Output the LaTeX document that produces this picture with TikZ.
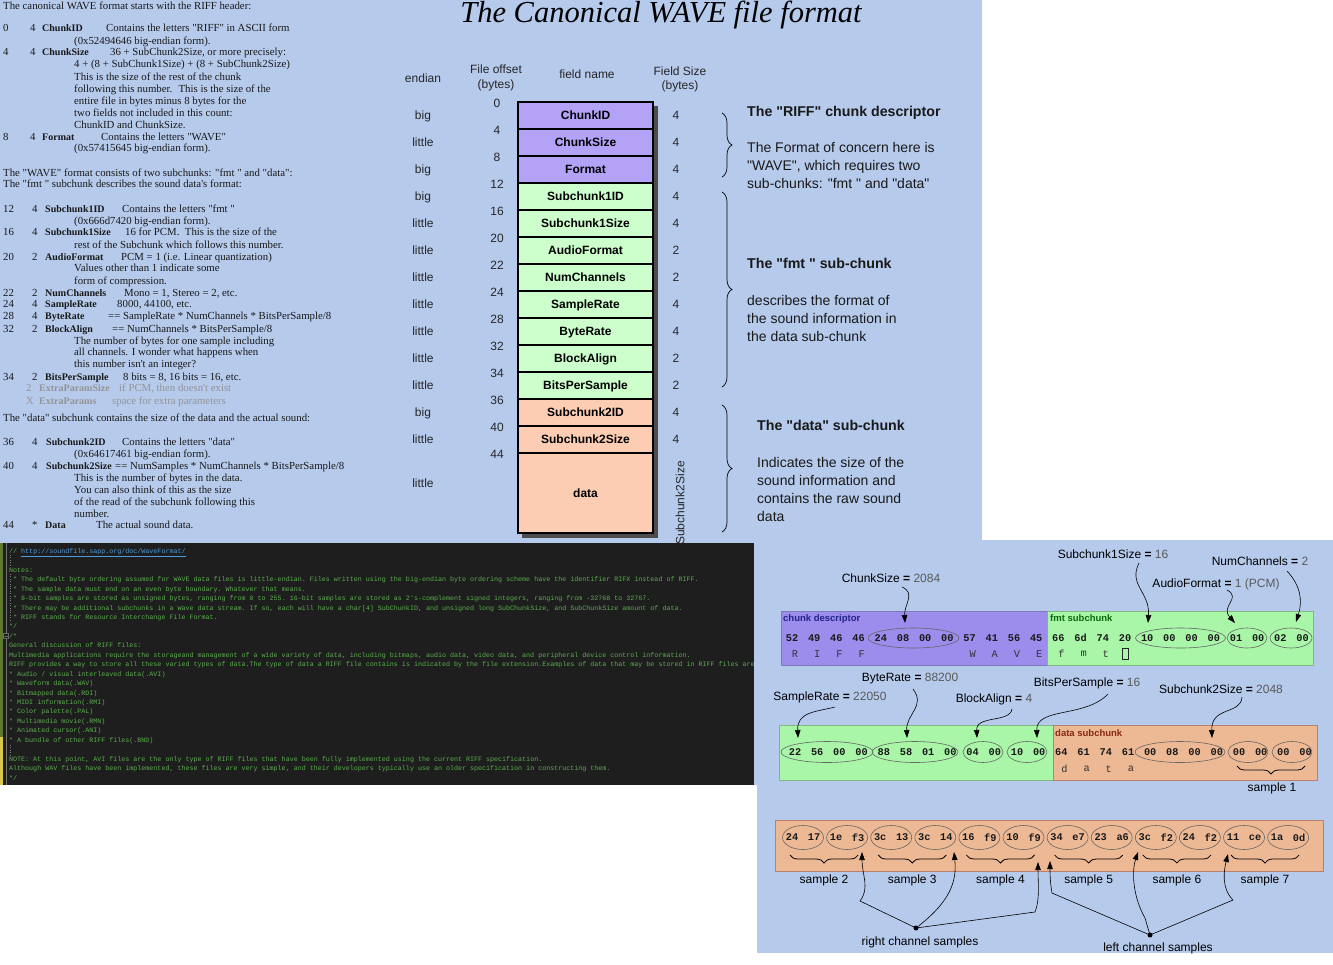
\documentclass[tikz,border=0pt]{standalone}
\usepackage{fontspec}
\setmainfont{Liberation Serif}[Ligatures=TeXOff]
\setsansfont{Liberation Sans}[Ligatures=TeXOff]
\setmonofont{Liberation Mono}
\usetikzlibrary{arrows.meta,decorations.pathreplacing}
\definecolor{bgblue}{HTML}{B6CAEC}
\definecolor{tpurple}{HTML}{B4A2F6}
\definecolor{tgreen}{HTML}{CCFFCC}
\definecolor{torange}{HTML}{FCCDB2}
\definecolor{bpurple}{HTML}{9C8CEC}
\definecolor{bgreen}{HTML}{A9F6A9}
\definecolor{borange}{HTML}{EDB995}
\definecolor{codebg}{HTML}{1E1E1E}
\definecolor{codegreen}{HTML}{5BAE4E}
\definecolor{codeblue}{HTML}{4F9BDC}
\definecolor{navy}{HTML}{23238C}
\definecolor{dgreen}{HTML}{0A6A0A}
\definecolor{dbrown}{HTML}{8A2A10}
\definecolor{gutolive}{HTML}{5E7A2E}
\definecolor{gutyellow}{HTML}{D8C84A}
\newcommand\fs[1]{\fontsize{#1}{#1}\selectfont}
\newcommand\lv[2]{#1 {\bfseries =} \textcolor{black!65}{#2}}
\newcommand\myT[4]{\node[lt] (#1) at (#2,#3+3.6) {#4};}
\newcommand\myB[4]{\node[ltb] (#1) at (#2,#3+3.6) {#4};}
\newcommand\myG[4]{\node[lg] (#1) at (#2,#3+3.6) {#4};}
\newcommand\myGB[4]{\node[lgb] (#1) at (#2,#3+3.6) {#4};}
\newcommand\myC[3]{\node[code] (#1) at (9,{551+9.45*(#2-1)+2.3}) {#3};}
\begin{document}
\begin{tikzpicture}[x=1pt,y=-1pt,
  lt/.style={font=\fs{10.8}, text=black!90, inner sep=0, anchor=base west},
  ltb/.style={lt, font=\fs{10}\bfseries},
  lg/.style={lt, text=black!42},
  lgb/.style={lg, font=\fs{10}\bfseries},
  side/.style={font=\sffamily\fs{12}, text=black!85, inner sep=0},
  fld/.style={draw=black, line width=1.6pt, minimum width=135pt, minimum height=27pt, font=\sffamily\bfseries\fs{12}, text height=8.6pt, text depth=0pt, inner sep=0},
  rt/.style={font=\sffamily\fs{14}, text=black!90, inner sep=0, anchor=base west},
  rtb/.style={rt, font=\sffamily\bfseries\fs{14.2}},
  brc/.style={decorate, decoration={brace, amplitude=10pt}, line width=0.7pt},
  code/.style={font=\ttfamily\fs{6.68}, text=codegreen, inner sep=0, anchor=base west},
  byte/.style={font=\ttfamily\bfseries\fs{10.3}, text=black!90, inner sep=0},
  letter/.style={font=\ttfamily\fs{10.3}, text=black!80, inner sep=0},
  lab/.style={font=\sffamily\fs{12}, inner sep=0, text height=8.6pt, text depth=2.5pt},
  arr/.style={line width=0.6pt, -{Triangle[length=8pt,width=5.5pt]}},
  ell/.style={draw=black!60, line width=0.6pt},
  sbrc/.style={decorate, decoration={brace, amplitude=8pt}, line width=0.8pt},
  tag/.style={font=\sffamily\bfseries\fs{9.5}, inner sep=0, anchor=base west},
]
\useasboundingbox (0,0) rectangle (1333,964);
\fill[white] (0,0) rectangle (1333,964);
\fill[bgblue] (0,0) rectangle (982,545);
\fill[bgblue] (757,540) rectangle (1333,953);
\fill[bgblue] (750,543) rectangle (760,785);

% ---------- title ----------
\node[font=\fs{30.5}\itshape, anchor=base, inner sep=0] (title) at (661,22) {The Canonical WAVE file format};

% ---------- left description ----------
\myT{h0}{3}{6}{The canonical WAVE format starts with the RIFF header:}
\myT{o1}{3}{28}{0}\myT{s1}{30}{28}{4}\myB{n1}{42}{28}{ChunkID}\myT{d1}{106}{28}{Contains the letters "RIFF" in ASCII form}
\myT{d1b}{74}{41}{(0x52494646 big-endian form).}
\myT{o2}{3}{52}{4}\myT{s2}{30}{52}{4}\myB{n2}{42}{52}{ChunkSize}\myT{d2}{110}{52}{36 + SubChunk2Size, or more precisely:}
\myT{d2b}{74}{64}{4 + (8 + SubChunk1Size) + (8 + SubChunk2Size)}
\myT{d2c}{74}{77}{This is the size of the rest of the chunk}
\myT{d2d}{74}{89}{following this number.~ This is the size of the}
\myT{d2e}{74}{101}{entire file in bytes minus 8 bytes for the}
\myT{d2f}{74}{113}{two fields not included in this count:}
\myT{d2g}{74}{125}{ChunkID and ChunkSize.}
\myT{o3}{3}{137}{8}\myT{s3}{30}{137}{4}\myB{n3}{42}{137}{Format}\myT{d3}{101}{137}{Contains the letters "WAVE"}
\myT{d3b}{74}{148}{(0x57415645 big-endian form).}
\myT{h1}{3}{173}{The "WAVE" format consists of two subchunks: "fmt " and "data":}
\myT{h2}{3}{184}{The "fmt " subchunk describes the sound data's format:}
\myT{o4}{3}{209}{12}\myT{s4}{32}{209}{4}\myB{n4}{45}{209}{Subchunk1ID}\myT{d4}{122}{209}{Contains the letters "fmt "}
\myT{d4b}{74}{221}{(0x666d7420 big-endian form).}
\myT{o5}{3}{232}{16}\myT{s5}{32}{232}{4}\myB{n5}{45}{232}{Subchunk1Size}\myT{d5}{125}{232}{16 for PCM.~ This is the size of the}
\myT{d5b}{74}{245}{rest of the Subchunk which follows this number.}
\myT{o6}{3}{257}{20}\myT{s6}{32}{257}{2}\myB{n6}{45}{257}{AudioFormat}\myT{d6}{121}{257}{PCM = 1 (i.e. Linear quantization)}
\myT{d6b}{74}{268}{Values other than 1 indicate some}
\myT{d6c}{74}{281}{form of compression.}
\myT{o7}{3}{293}{22}\myT{s7}{32}{293}{2}\myB{n7}{45}{293}{NumChannels}\myT{d7}{124}{293}{Mono = 1, Stereo = 2, etc.}
\myT{o8}{3}{304}{24}\myT{s8}{32}{304}{4}\myB{n8}{45}{304}{SampleRate}\myT{d8}{117}{304}{8000, 44100, etc.}
\myT{o9}{3}{316}{28}\myT{s9}{32}{316}{4}\myB{n9}{45}{316}{ByteRate}\myT{d9}{108}{316}{== SampleRate * NumChannels * BitsPerSample/8}
\myT{o10}{3}{329}{32}\myT{s10}{32}{329}{2}\myB{n10}{45}{329}{BlockAlign}\myT{d10}{112}{329}{== NumChannels * BitsPerSample/8}
\myT{d10b}{74}{341}{The number of bytes for one sample including}
\myT{d10c}{74}{352}{all channels. I wonder what happens when}
\myT{d10d}{74}{364}{this number isn't an integer?}
\myT{o11}{3}{377}{34}\myT{s11}{32}{377}{2}\myB{n11}{45}{377}{BitsPerSample}\myT{d11}{123}{377}{8 bits = 8, 16 bits = 16, etc.}
\myG{s12}{26}{388}{2}\myGB{n12}{39}{388}{ExtraParamSize}\myG{d12}{119}{388}{if PCM, then doesn't exist}
\myG{s13}{26}{401}{X}\myGB{n13}{39}{401}{ExtraParams}\myG{d13}{112}{401}{space for extra parameters}
\myT{h3}{3}{418}{The "data" subchunk contains the size of the data and the actual sound:}
\myT{o14}{3}{442}{36}\myT{s14}{32}{442}{4}\myB{n14}{46}{442}{Subchunk2ID}\myT{d14}{122}{442}{Contains the letters "data"}
\myT{d14b}{74}{454}{(0x64617461 big-endian form).}
\myT{o15}{3}{466}{40}\myT{s15}{32}{466}{4}\myB{n15}{46}{466}{Subchunk2Size}\myT{d15}{115}{466}{== NumSamples * NumChannels * BitsPerSample/8}
\myT{d15b}{74}{478}{This is the number of bytes in the data.}
\myT{d15c}{74}{490}{You can also think of this as the size}
\myT{d15d}{74}{502}{of the read of the subchunk following this}
\myT{d15e}{74}{514}{number.}
\myT{o16}{3}{525}{44}\myT{s16}{32}{525}{*}\myB{n16}{45}{525}{Data}\myT{d16}{96}{525}{The actual sound data.}

% ---------- table ----------
\node[side] (hEnd) at (423,78) {endian};
\node[side] (hOff1) at (496,69) {File offset};
\node[side] (hOff2) at (496,85) {(bytes)};
\node[side] (hName) at (587,74) {field name};
\node[side] (hSz1) at (680,71) {Field Size};
\node[side] (hSz2) at (680,86) {(bytes)};
\fill[black!70] (522,106) rectangle (658,538);
\foreach \nm/\col/\en/\sz [count=\i from 0] in {ChunkID/tpurple/big/4, ChunkSize/tpurple/little/4, Format/tpurple/big/4, Subchunk1ID/tgreen/big/4, Subchunk1Size/tgreen/little/4, AudioFormat/tgreen/little/2, NumChannels/tgreen/little/2, SampleRate/tgreen/little/4, ByteRate/tgreen/little/4, BlockAlign/tgreen/little/2, BitsPerSample/tgreen/little/2, Subchunk2ID/torange/big/4, Subchunk2Size/torange/little/4}{
  \node[fld, fill=\col] (fld\i) at (585.5,{115.5+27*\i}) {\nm};
  \node[side, anchor=base] (end\i) at (423,{119.8+27*\i}) {\en};
  \node[side] (size\i) at (676,{115.5+27*\i}) {\sz};
}
\node[fld, fill=torange, minimum height=80pt] (flddata) at (585.5,493) {data};
\node[side, anchor=base] (enddata) at (423,487.3) {little};
\foreach \o [count=\i from 0] in {0,4,8,12,16,20,22,24,28,32,34,36,40,44}
  \node[side] (off\i) at (497,{103+27*\i}) {\o};
\node[side, rotate=90] (s2s) at (680,503) {Subchunk2Size};

% ---------- right-hand braces and notes ----------
\draw[brc] (722,113) -- (722,177);
\draw[brc] (722,192) -- (722,387);
\draw[brc] (722,405) -- (722,532);
\node[rtb] (r1) at (747,116) {The "RIFF" chunk descriptor};
\node[rt] (r1a) at (747,152) {The Format of concern here is};
\node[rt] (r1b) at (747,170) {"WAVE", which requires two};
\node[rt] (r1c) at (747,188) {sub-chunks: "fmt " and "data"};
\node[rtb] (r2) at (747,268) {The "fmt " sub-chunk};
\node[rt] (r2a) at (747,305) {describes the format of};
\node[rt] (r2b) at (747,323) {the sound information in};
\node[rt] (r2c) at (747,341) {the data sub-chunk};
\node[rtb] (r3) at (757,430) {The "data" sub-chunk};
\node[rt] (r3a) at (757,467) {Indicates the size of the};
\node[rt] (r3b) at (757,485) {sound information and};
\node[rt] (r3c) at (757,503) {contains the raw sound};
\node[rt] (r3d) at (757,521) {data};

% ---------- code block ----------
\fill[codebg] (0,543) rectangle (754,785);
\fill[gutolive] (0,543) rectangle (3,737);
\fill[gutyellow] (0,737) rectangle (3,785);
\draw[black!55, line width=0.6pt] (6,543) -- (6,785);
\node[draw=black!60, fill=codebg, minimum size=5pt, inner sep=0, line width=0.5pt] (fold) at (6,636) {};
\draw[black!60, line width=0.5pt] (fold.west) -- (fold.east);
\draw[black!50, dotted] (10,555) -- (10,565);
\draw[black!50, dotted] (10,574) -- (10,622);
\draw[black!50, dotted] (10,745) -- (10,755);
\begin{scope}
\clip (0,543) rectangle (754,785);
\myC{c1}{1}{// \textcolor{codeblue}{\underline{http://soundfile.sapp.org/doc/WaveFormat/}}}
\myC{c3}{3}{Notes:}
\myC{c4}{4}{\ * The default byte ordering assumed for WAVE data files is little-endian. Files written using the big-endian byte ordering scheme have the identifier RIFX instead of RIFF.}
\myC{c5}{5}{\ * The sample data must end on an even byte boundary. Whatever that means.}
\myC{c6}{6}{\ * 8-bit samples are stored as unsigned bytes, ranging from 0 to 255. 16-bit samples are stored as 2's-complement signed integers, ranging from -32768 to 32767.}
\myC{c7}{7}{\ * There may be additional subchunks in a Wave data stream. If so, each will have a char[4] SubChunkID, and unsigned long SubChunkSize, and SubChunkSize amount of data.}
\myC{c8}{8}{\ * RIFF stands for Resource Interchange File Format.}
\myC{c9}{9}{*/}
\myC{c10}{10}{/*}
\myC{c11}{11}{General discussion of RIFF files:}
\myC{c12}{12}{Multimedia applications require the storageand management of a wide variety of data, including bitmaps, audio data, video data, and peripheral device control information.}
\myC{c13}{13}{RIFF provides a way to store all these varied types of data.The type of data a RIFF file contains is indicated by the file extension.Examples of data that may be stored in RIFF files are:}
\myC{c14}{14}{* Audio / visual interleaved data(.AVI)}
\myC{c15}{15}{* Waveform data(.WAV)}
\myC{c16}{16}{* Bitmapped data(.RDI)}
\myC{c17}{17}{* MIDI information(.RMI)}
\myC{c18}{18}{* Color palette(.PAL)}
\myC{c19}{19}{* Multimedia movie(.RMN)}
\myC{c20}{20}{* Animated cursor(.ANI)}
\myC{c21}{21}{* A bundle of other RIFF files(.BND)}
\myC{c23}{23}{NOTE: At this point, AVI files are the only type of RIFF files that have been fully implemented using the current RIFF specification.}
\myC{c24}{24}{Although WAV files have been implemented, these files are very simple, and their developers typically use an older specification in constructing them.}
\myC{c25}{25}{*/}
\end{scope}

% ---------- byte diagram: row 1 ----------
\node[draw=navy!60, fill=bpurple, line width=0.8pt, minimum width=266pt, minimum height=54pt, inner sep=0] (cdbox) at (914,638) {};
\node[draw=dgreen!50, fill=bgreen, line width=0.8pt, minimum width=266pt, minimum height=54pt, inner sep=0] (fmtbox) at (1180,638) {};
\node[tag, text=navy] (cdtag) at (783,621) {chunk descriptor};
\node[tag, text=dgreen] (fmttag) at (1050,621) {fmt subchunk};
\draw[ell] (913.5,638) ellipse [x radius=45.5pt, y radius=10pt];
\draw[ell] (1180.5,638) ellipse [x radius=45pt, y radius=10pt];
\draw[ell] (1247,638) ellipse [x radius=20pt, y radius=10pt];
\draw[ell] (1291,638) ellipse [x radius=21pt, y radius=10pt];
\foreach \b [count=\i from 0] in {52,49,46,46,24,08,00,00,57,41,56,45,66,6d,74,20,10,00,00,00,01,00,02,00}
  \node[byte] (ra\i) at ({792+22.2*\i},638) {\b};
\foreach \l/\i in {R/0,I/1,F/2,F/3,W/8,A/9,V/10,E/11,f/12,m/13,t/14}
  \node[letter] (la\i) at ({795+22.2*\i},654) {\l};
\node[draw=black!85, line width=0.8pt, minimum width=6pt, minimum height=11pt, inner sep=0] (la15) at (1125,654) {};

\node[lab] (lChunkSize) at (891,579) {\lv{ChunkSize}{2084}};
\node[lab] (lSub1Size) at (1113,555) {\lv{Subchunk1Size}{16}};
\node[lab] (lAudio) at (1216,584) {\lv{AudioFormat}{1 (PCM)}};
\node[lab] (lNumCh) at (1260,562) {\lv{NumChannels}{2}};
\coordinate (a1s) at (902,587); \coordinate (a1e) at (905,623);
\coordinate (a2s) at (1139,563); \coordinate (a2e) at (1148,623);
\coordinate (a3s) at (1227,590); \coordinate (a3e) at (1235,623);
\coordinate (a4s) at (1287,571); \coordinate (a4e) at (1296,622);
\draw[arr] (a1s) .. controls (916,593) and (904,605) .. (a1e);
\draw[arr] (a2s) .. controls (1128,585) and (1150,592) .. (a2e);
\draw[arr] (a3s) .. controls (1242,598) and (1220,606) .. (a3e);
\draw[arr] (a4s) .. controls (1300,585) and (1303,600) .. (a4e);

% ---------- row 2 ----------
\node[draw=dgreen!50, fill=bgreen, line width=0.8pt, minimum width=274pt, minimum height=55pt, inner sep=0] (r2green) at (916,752.5) {};
\node[draw=dbrown!60, fill=borange, line width=0.8pt, minimum width=264pt, minimum height=55pt, inner sep=0] (r2orange) at (1185,752.5) {};
\node[tag, text=dbrown] (datatag) at (1055,736) {data subchunk};
\draw[ell] (827,752) ellipse [x radius=46pt, y radius=10.5pt];
\draw[ell] (915,752) ellipse [x radius=43pt, y radius=10.5pt];
\draw[ell] (983,752) ellipse [x radius=20pt, y radius=10.5pt];
\draw[ell] (1027,752) ellipse [x radius=20pt, y radius=10.5pt];
\draw[ell] (1180,752) ellipse [x radius=45pt, y radius=10.5pt];
\draw[ell] (1248,752) ellipse [x radius=20pt, y radius=10.5pt];
\draw[ell] (1292,752) ellipse [x radius=20pt, y radius=10.5pt];
\foreach \b [count=\i from 0] in {22,56,00,00,88,58,01,00,04,00,10,00,64,61,74,61,00,08,00,00,00,00,00,00}
  \node[byte] (rb\i) at ({795+22.2*\i},752) {\b};
\foreach \l/\i in {d/12,a/13,t/14,a/15}
  \node[letter] (lb\i) at ({798+22.2*\i},769) {\l};
\draw[sbrc] (1305,766) -- (1237,766);
\node[lab] (smp1) at (1272,788) {sample 1};

\node[lab] (lByteRate) at (910,678) {\lv{ByteRate}{88200}};
\node[lab] (lSampleRate) at (830,697) {\lv{SampleRate}{22050}};
\node[lab] (lBlockAlign) at (994,699) {\lv{BlockAlign}{4}};
\node[lab] (lBits) at (1087,683) {\lv{BitsPerSample}{16}};
\node[lab] (lSub2Size) at (1221,690) {\lv{Subchunk2Size}{2048}};
\coordinate (b1s) at (835,707); \coordinate (b1e) at (798,738);
\coordinate (b2s) at (913,689); \coordinate (b2e) at (907,738);
\coordinate (b3s) at (1012,709); \coordinate (b3e) at (977,738);
\coordinate (b4s) at (1108,694); \coordinate (b4e) at (1037,738);
\coordinate (b5s) at (1242,697); \coordinate (b5e) at (1212,738);
\draw[arr] (b1s) .. controls (815,712) and (797,712) .. (b1e);
\draw[arr] (b2s) .. controls (926,706) and (906,714) .. (b2e);
\draw[arr] (b3s) .. controls (1010,723) and (976,715) .. (b3e);
\draw[arr] (b4s) .. controls (1085,718) and (1036,707) .. (b4e);
\draw[arr] (b5s) .. controls (1241,715) and (1211,706) .. (b5e);

% ---------- row 3 ----------
\node[draw=dbrown!60, fill=borange, line width=0.8pt, minimum width=548pt, minimum height=51pt, inner sep=0] (r3box) at (1049,845.5) {};
\foreach \p/\q [count=\k from 0] in {24/17,1e/f3,3c/13,3c/14,16/f9,10/f9,34/e7,23/a6,3c/f2,24/f2,11/ce,1a/0d}{
  \draw[ell] ({803+44.1*\k},837.5) ellipse [x radius=20.5pt, y radius=12pt];
  \node[byte] (pa\k) at ({803+44.1*\k-11},837.5) {\p};
  \node[byte] (pb\k) at ({803+44.1*\k+11},837.5) {\q};
}
\foreach \k in {0,...,5}{
  \pgfmathsetmacro\xa{803+44.1*(2*\k)-13}
  \pgfmathsetmacro\xb{803+44.1*(2*\k+1)+11}
  \pgfmathtruncatemacro\sn{\k+2}
  \draw[sbrc] (\xb,855) -- (\xa,855);
  \node[lab] (smp\sn) at ({(\xa+\xb)/2},880) {sample \sn};
}
\node[circle, fill=black, inner sep=0, minimum size=5pt] (rc) at (916,928) {};
\node[circle, fill=black, inner sep=0, minimum size=5pt] (lc) at (1150,935) {};
\node[lab] (rcl) at (920,942) {right channel samples};
\node[lab] (lcl) at (1158,948) {left channel samples};
\coordinate (rcA) at (862,852); \coordinate (rcB) at (954,852); \coordinate (rcC) at (1038,862);
\coordinate (lcA) at (1050,861); \coordinate (lcB) at (1138,852); \coordinate (lcC) at (1228,854);
\draw[arr] (rc.center) -- (860,901) .. controls (870,888) and (862,875) .. (rcA);
\draw[arr] (rc.center) .. controls (950,902) and (957,882) .. (rcB);
\draw[arr] (rc.center) -- (1035,912) .. controls (1040,900) and (1038,882) .. (rcC);
\draw[arr] (lc.center) -- (1052,893) .. controls (1050,882) and (1050,872) .. (lcA);
\draw[arr] (lc.center) -- (1145,918) .. controls (1132,895) and (1132,870) .. (lcB);
\draw[arr] (lc.center) -- (1233,900) .. controls (1221,888) and (1224,870) .. (lcC);
\end{tikzpicture}
\end{document}
